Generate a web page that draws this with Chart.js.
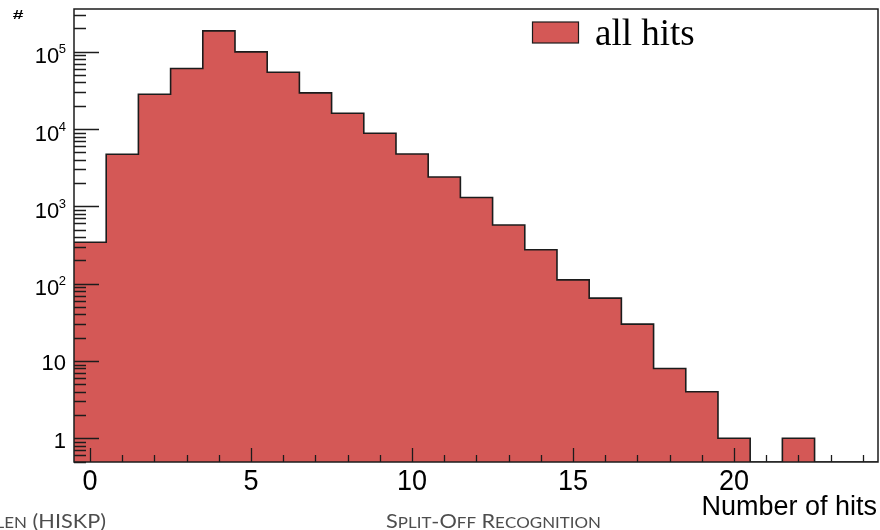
<!DOCTYPE html>
<html>
<head>
<meta charset="utf-8">
<script src="https://cdn.jsdelivr.net/npm/chart.js@4.4.1/dist/chart.umd.min.js"></script>
<style>
  html, body { margin: 0; padding: 0; background: #ffffff; }
  canvas { display: block; }
</style>
</head>
<body>
<canvas id="hits" width="880" height="530"></canvas>
<script>
// Histogram of the number of hits per cluster (one bin per integer value)
const binCentres = [0, 1, 2, 3, 4, 5, 6, 7, 8, 9, 10, 11, 12, 13, 14, 15, 16, 17, 18, 19, 20, 21, 22, 23, 24];
const hitCounts  = [343, 4720, 28200, 60500, 186000, 99400, 54300, 29300, 16000, 8830, 4760, 2400, 1300, 574, 275, 112, 65, 30, 8, 4, 1, 0, 1, 0, 0];

const seriesLabel = 'all hits';
const xAxisTitle = 'Number of hits';
const yAxisTitle = '#';
const xTickLabels = [0, 5, 10, 15, 20];
const yDecadeExponents = [0, 1, 2, 3, 4, 5];
const footerLeft = 'len (HISKP)';
const footerCentre = 'Split-Off Recognition';

const X_MIN = -0.5, X_MAX = 24.47;
const Y_MIN = 0.494, Y_MAX = 3.565e5;
const FILL = '#d45856';
const INK = '#1c1c1c';
const SANS = '"Liberation Sans", Arial, sans-serif';
const SERIF = '"Liberation Serif", "Times New Roman", serif';
const FOOTER_FONT = 'Lato, "Open Sans", sans-serif';

// Histogram outline: a flat segment across every bin, empty bins sit on the axis floor
const stepPoints = [];
binCentres.forEach((c, i) => {
  const v = hitCounts[i] > 0 ? hitCounts[i] : Y_MIN;
  stepPoints.push({ x: c - 0.5, y: v }, { x: c + 0.5, y: v });
});

function capsRuns(ctx, text, size) {
  const runs = [];
  for (const ch of text) {
    const lower = ch !== ch.toUpperCase();
    const r = { t: lower ? ch.toUpperCase() : ch, s: lower ? size * 0.78 : size };
    ctx.font = `${r.s}px ${FOOTER_FONT}`;
    r.w = ctx.measureText(r.t).width;
    runs.push(r);
  }
  return runs;
}

function drawSmallCaps(ctx, text, x, baseline, size, align, hScale) {
  const runs = capsRuns(ctx, text, size);
  const w = runs.reduce((a, r) => a + r.w, 0);
  ctx.save();
  const start = align === 'right' ? x - w * hScale : x;
  ctx.translate(start, baseline);
  ctx.scale(hScale, 1);
  ctx.textAlign = 'left';
  ctx.textBaseline = 'alphabetic';
  let cx = 0;
  runs.forEach(r => { ctx.font = `${r.s}px ${FOOTER_FONT}`; ctx.fillText(r.t, cx, 0); cx += r.w; });
  ctx.restore();
}

const frameAndLabels = {
  id: 'frameAndLabels',
  beforeDraw(chart) {
    const ctx = chart.ctx;
    ctx.save();
    ctx.fillStyle = '#ffffff';
    ctx.fillRect(0, 0, chart.width, chart.height);
    ctx.restore();
  },
  afterDraw(chart) {
    const ctx = chart.ctx;
    const { left: L, right: R, top: T, bottom: B } = chart.chartArea;
    const xs = chart.scales.x, ys = chart.scales.y;
    ctx.save();

    // frame
    ctx.strokeStyle = INK;
    ctx.lineWidth = 1.5;
    ctx.strokeRect(L, T, R - L, B - T);

    // y ticks: decades long, 2..9 short
    ctx.lineWidth = 1.3;
    ctx.beginPath();
    for (let e = -1; e <= 5; e++) {
      for (let m = 1; m <= 9; m++) {
        const v = m * Math.pow(10, e);
        if (v <= Y_MIN || v >= Y_MAX) continue;
        const y = Math.round(ys.getPixelForValue(v)) + 0.5;
        ctx.moveTo(L, y);
        ctx.lineTo(L + (m === 1 ? 25 : 12), y);
      }
    }
    // x ticks: every integer, long ones at labelled values
    for (let i = Math.ceil(X_MIN); i <= Math.floor(X_MAX); i++) {
      const x = Math.round(xs.getPixelForValue(i)) + 0.5;
      ctx.moveTo(x, B);
      ctx.lineTo(x, B - (i % 5 === 0 ? 14 : 7));
    }
    ctx.stroke();

    // x tick labels (slightly condensed digits)
    ctx.fillStyle = '#000000';
    ctx.font = `30px ${SANS}`;
    ctx.textAlign = 'center';
    ctx.textBaseline = 'alphabetic';
    xTickLabels.forEach(v => {
      ctx.save();
      ctx.translate(xs.getPixelForValue(v), 489.5);
      ctx.scale(0.9, 1);
      ctx.fillText(String(v), 0, 0);
      ctx.restore();
    });

    // y tick labels (powers of ten)
    const labelRight = 66;
    yDecadeExponents.forEach(e => {
      const y = ys.getPixelForValue(Math.pow(10, e));
      ctx.textAlign = 'right';
      if (e <= 1) {
        ctx.font = `22px ${SANS}`;
        ctx.fillText(e === 0 ? '1' : '10', labelRight, y + 9.4);
      } else {
        ctx.font = `13px ${SANS}`;
        const sup = String(e);
        const sw = ctx.measureText(sup).width;
        ctx.fillText(sup, labelRight, y + 1.6);
        ctx.font = `22px ${SANS}`;
        ctx.fillText('10', labelRight - sw + 0.5, y + 11.6);
      }
    });

    // axis titles
    ctx.font = `27px ${SANS}`;
    ctx.textAlign = 'right';
    ctx.fillText(xAxisTitle, 877, 515);
    ctx.save();
    ctx.translate(18, 19);
    ctx.scale(1.6, 1);
    ctx.font = `bold 12px ${SANS}`;
    ctx.textAlign = 'center';
    ctx.fillText(yAxisTitle, 0, 0);
    ctx.restore();

    // legend
    const ds = chart.data.datasets[0];
    ctx.fillStyle = ds.backgroundColor;
    ctx.fillRect(532.5, 22, 46, 21);
    ctx.strokeStyle = INK;
    ctx.lineWidth = 1.2;
    ctx.strokeRect(532.5, 22, 46, 21);
    ctx.fillStyle = '#000000';
    ctx.font = `37px ${SERIF}`;
    ctx.textAlign = 'left';
    ctx.fillText(ds.label, 595, 45);

    // footer line
    ctx.fillStyle = '#4d4d4d';
    const fs = 19.5;
    const cw = capsRuns(ctx, footerCentre, fs).reduce((a, r) => a + r.w, 0);
    const hScale = 215 / cw;
    drawSmallCaps(ctx, footerCentre, 386, 527.5, fs, 'left', hScale);
    drawSmallCaps(ctx, footerLeft, 106, 527.5, fs, 'right', hScale);

    ctx.restore();
  }
};

new Chart(document.getElementById('hits'), {
  type: 'line',
  data: {
    datasets: [{
      label: seriesLabel,
      data: stepPoints,
      borderColor: INK,
      borderWidth: 1.6,
      backgroundColor: FILL,
      fill: 'start',
      pointRadius: 0,
      tension: 0,
      borderJoinStyle: 'miter'
    }]
  },
  options: {
    responsive: false,
    animation: false,
    events: [],
    layout: { padding: { left: 74, top: 9, right: 2, bottom: 68 } },
    scales: {
      x: { type: 'linear', min: X_MIN, max: X_MAX, display: false },
      y: { type: 'logarithmic', min: Y_MIN, max: Y_MAX, display: false }
    },
    plugins: {
      legend: { display: false },
      tooltip: { enabled: false }
    }
  },
  plugins: [frameAndLabels]
});
</script>
</body>
</html>
